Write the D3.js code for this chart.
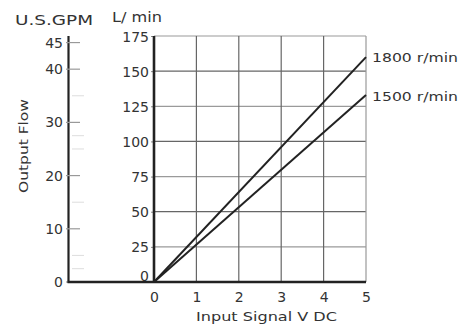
<!DOCTYPE html>
<html><head><meta charset="utf-8">
<script src="https://cdn.jsdelivr.net/npm/d3@7"></script>
<style>
html,body{margin:0;padding:0;background:#fff;}
svg{display:block;}
text{font-family:"DejaVu Sans",sans-serif;fill:#333;}
</style></head>
<body>
<svg id="c" width="462" height="330"></svg>
<script>
// ---- data ----
const voltage = [0, 5];                 // Input Signal V DC
const flow1800 = [0, 160];              // L/min at 1800 r/min
const flow1500 = [0, 133];              // L/min at 1500 r/min
const seriesNames = ["1800 r/min", "1500 r/min"];
const xTicks = [0, 1, 2, 3, 4, 5];
const lpmTicks = [0, 25, 50, 75, 100, 125, 150, 175];
const gpmTicks = [0, 10, 20, 30, 40, 45];
const gpmMinor = [2.5, 5, 15, 25, 27.5, 35];
const LPM_PER_GPM = 3.785;

const svg = d3.select("#c");
const x = d3.scaleLinear().domain([0, 5]).range([154, 366]);
const y = d3.scaleLinear().domain([0, 175]).range([282, 36]);
const g = d3.scaleLinear().domain([0, 175 / LPM_PER_GPM]).range([282, 36]);

// grid
svg.append("g").selectAll("line").data(lpmTicks.filter(d => d > 0)).join("line")
  .attr("x1", x(0)).attr("x2", x(5))
  .attr("y1", d => y(d)).attr("y2", d => y(d))
  .attr("stroke", d => d % 50 === 0 ? "#666" : "#9a9a9a").attr("stroke-width", 1.2);
svg.append("g").selectAll("line").data(xTicks.filter(d => d > 0)).join("line")
  .attr("y1", y(0)).attr("y2", y(175))
  .attr("x1", d => x(d)).attr("x2", d => x(d))
  .attr("stroke", d => d === 5 ? "#999" : "#666").attr("stroke-width", 1.2);

// GPM axis
svg.append("line").attr("x1", 68.5).attr("x2", 68.5).attr("y1", g(0) + 1).attr("y2", y(175))
  .attr("stroke", "#222").attr("stroke-width", 2.2);
svg.append("g").selectAll("line").data(gpmMinor).join("line")
  .attr("x1", 72).attr("x2", 84).attr("y1", d => g(d)).attr("y2", d => g(d))
  .attr("stroke", "#ddd").attr("stroke-width", 1);
svg.append("g").selectAll("line").data(gpmTicks).join("line")
  .attr("x1", 66).attr("x2", 80).attr("y1", d => g(d)).attr("y2", d => g(d))
  .attr("stroke", "#999").attr("stroke-width", 1.2);
svg.append("g").selectAll("text").data(gpmTicks).join("text")
  .attr("x", 63).attr("y", d => g(d) + 5).attr("text-anchor", "end")
  .attr("font-size", 14).text(d => d);

// L/min axis
const yAxis = svg.append("g").attr("transform", "translate(154,0)")
  .call(d3.axisLeft(y).tickValues(lpmTicks).tickSize(3).tickPadding(2));
yAxis.select(".domain").remove();
yAxis.selectAll("line").attr("stroke", "#888");
yAxis.selectAll("text").attr("font-size", 14).attr("fill", "#333")
  .attr("font-family", "DejaVu Sans, sans-serif")
  .attr("dy", d => d === 0 ? "-0.1em" : "0.36em");
svg.append("line").attr("x1", 154).attr("x2", 154).attr("y1", y(0) + 1).attr("y2", y(175))
  .attr("stroke", "#222").attr("stroke-width", 2.6);

// x axis
svg.append("line").attr("x1", 67.5).attr("x2", x(5)).attr("y1", y(0)).attr("y2", y(0))
  .attr("stroke", "#222").attr("stroke-width", 2.4);
const xAxis = svg.append("g").attr("transform", `translate(0,${y(0)})`)
  .call(d3.axisBottom(x).tickValues(xTicks).tickFormat(d3.format("d")).tickSize(0).tickPadding(10));
xAxis.select(".domain").remove();
xAxis.selectAll("text").attr("font-size", 14).attr("fill", "#333")
  .attr("font-family", "DejaVu Sans, sans-serif");

// series lines
const line = d3.line().x((d, i) => x(voltage[i])).y(d => y(d));
[flow1800, flow1500].forEach(s => {
  svg.append("path").datum(s).attr("d", line)
    .attr("fill", "none").attr("stroke", "#222").attr("stroke-width", 2);
});
// series labels
svg.append("text").attr("x", 372).attr("y", y(flow1800[1]) + 5)
  .attr("font-size", 13).attr("textLength", 86).attr("lengthAdjust", "spacingAndGlyphs")
  .text(seriesNames[0]);
svg.append("text").attr("x", 372).attr("y", y(flow1500[1]) + 6)
  .attr("font-size", 13).attr("textLength", 86).attr("lengthAdjust", "spacingAndGlyphs")
  .text(seriesNames[1]);

// titles
svg.append("text").attr("x", 15).attr("y", 25).attr("font-size", 14)
  .attr("textLength", 78).attr("lengthAdjust", "spacingAndGlyphs").text("U.S.GPM");
svg.append("text").attr("x", 112).attr("y", 22).attr("font-size", 14)
  .attr("textLength", 50).attr("lengthAdjust", "spacingAndGlyphs").text("L/ min");
svg.append("text").attr("transform", "translate(28,146) rotate(-90)")
  .attr("text-anchor", "middle").attr("font-size", 13)
  .attr("textLength", 94).attr("lengthAdjust", "spacingAndGlyphs").text("Output Flow");
svg.append("text").attr("x", 196).attr("y", 321).attr("font-size", 13)
  .attr("textLength", 141).attr("lengthAdjust", "spacingAndGlyphs").text("Input Signal V DC");
</script>
</body></html>
